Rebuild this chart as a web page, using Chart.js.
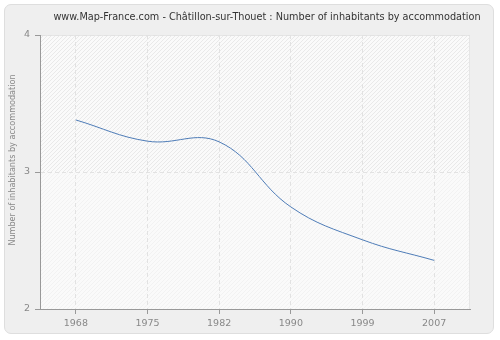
<!DOCTYPE html>
<html>
<head>
<meta charset="utf-8">
<script src="https://cdn.jsdelivr.net/npm/chart.js@4/dist/chart.umd.min.js"></script>
<style>
  html, body { margin: 0; padding: 0; background: #ffffff; }
  #wrap { position: relative; width: 500px; height: 340px; }
  #panel {
    position: absolute; left: 4px; top: 4px; width: 490px; height: 330px;
    box-sizing: border-box; background: #efefef;
    border: 1px solid #dedede; border-radius: 7px;
  }
  #chart { position: absolute; left: 0; top: 0; }
</style>
</head>
<body>
<div id="wrap">
  <div id="panel"></div>
  <canvas id="chart" width="500" height="340"></canvas>
</div>
<script>
const titleText = "www.Map-France.com - Châtillon-sur-Thouet : Number of inhabitants by accommodation";
const yTitle = "Number of inhabitants by accommodation";
const years = ["1968", "1975", "1982", "1990", "1999", "2007"];
const inhabitants = [3.38, 3.225, 3.22, 2.745, 2.505, 2.355];
const yTicks = [2, 3, 4];

const fontFamily = "'DejaVu Sans', Verdana, sans-serif";

// hatched plot background + titles
const plotBackground = {
    id: "plotBackground",
    beforeDraw(chart) {
        const { ctx, chartArea: a, scales } = chart;
        const mid = scales.y.getPixelForValue(3);
        ctx.save();
        ctx.fillStyle = "#fafafa";
        ctx.fillRect(a.left, a.top, a.right - a.left, a.bottom - a.top);

        function hatch(top, bottom, color) {
            ctx.save();
            ctx.beginPath();
            ctx.rect(a.left, top, a.right - a.left, bottom - top);
            ctx.clip();
            ctx.strokeStyle = color;
            ctx.lineWidth = 1;
            ctx.beginPath();
            for (let x = a.left - (bottom - top); x < a.right; x += 4) {
                ctx.moveTo(x, bottom);
                ctx.lineTo(x + (bottom - top), top);
            }
            ctx.stroke();
            ctx.restore();
        }
        hatch(a.top, mid, "#e9e9e9");
        hatch(mid, a.bottom, "#f2f2f2");

        ctx.strokeStyle = "#e6e6e6";
        ctx.beginPath();
        ctx.moveTo(a.left, a.top + 0.5);
        ctx.lineTo(a.right - 0.5, a.top + 0.5);
        ctx.lineTo(a.right - 0.5, a.bottom);
        ctx.stroke();
        ctx.restore();
    },
    afterDraw(chart) {
        const ctx = chart.ctx;
        ctx.save();
        ctx.font = "9.7px " + fontFamily;
        ctx.fillStyle = "#333333";
        ctx.textAlign = "center";
        ctx.textBaseline = "middle";
        ctx.fillText(titleText, 267, 17);

        ctx.translate(13, 160);
        ctx.rotate(-Math.PI / 2);
        ctx.font = "8.1px " + fontFamily;
        ctx.fillStyle = "#888888";
        ctx.fillText(yTitle, 0, 0);
        ctx.restore();
    }
};

new Chart(document.getElementById("chart"), {
    type: "line",
    data: {
        labels: years,
        datasets: [{
            data: inhabitants,
            borderColor: "#4f7db8",
            borderWidth: 1,
            pointRadius: 0,
            fill: false,
            tension: 0.4
        }]
    },
    plugins: [plotBackground],
    options: {
        responsive: false,
        animation: false,
        layout: { padding: { left: 5, right: 30, top: 35, bottom: 8 } },
        plugins: {
            legend: { display: false },
            title: { display: false },
            tooltip: { enabled: false }
        },
        scales: {
            x: {
                type: "category",
                offset: true,
                grid: {
                    offset: false,
                    color: "#e2e2e2",
                    tickColor: "#999999",
                    tickLength: 5,
                    tickBorderDash: []
                },
                border: { color: "#999999", width: 1, dash: [4, 3] },
                ticks: { color: "#888888", font: { family: fontFamily, size: 9.5 }, padding: 4, maxRotation: 0 },
                afterFit(scale) { scale.height = 23; }
            },
            y: {
                min: 2,
                max: 4,
                afterBuildTicks(scale) { scale.ticks = yTicks.map(v => ({ value: v })); },
                grid: {
                    color: "#e2e2e2",
                    tickColor: "#999999",
                    tickLength: 5,
                    tickBorderDash: []
                },
                border: { color: "#999999", width: 1, dash: [4, 3] },
                ticks: { color: "#888888", font: { family: fontFamily, size: 9.5 }, padding: 5 },
                afterFit(scale) { scale.width = 35; }
            }
        }
    }
});
</script>
</body>
</html>
